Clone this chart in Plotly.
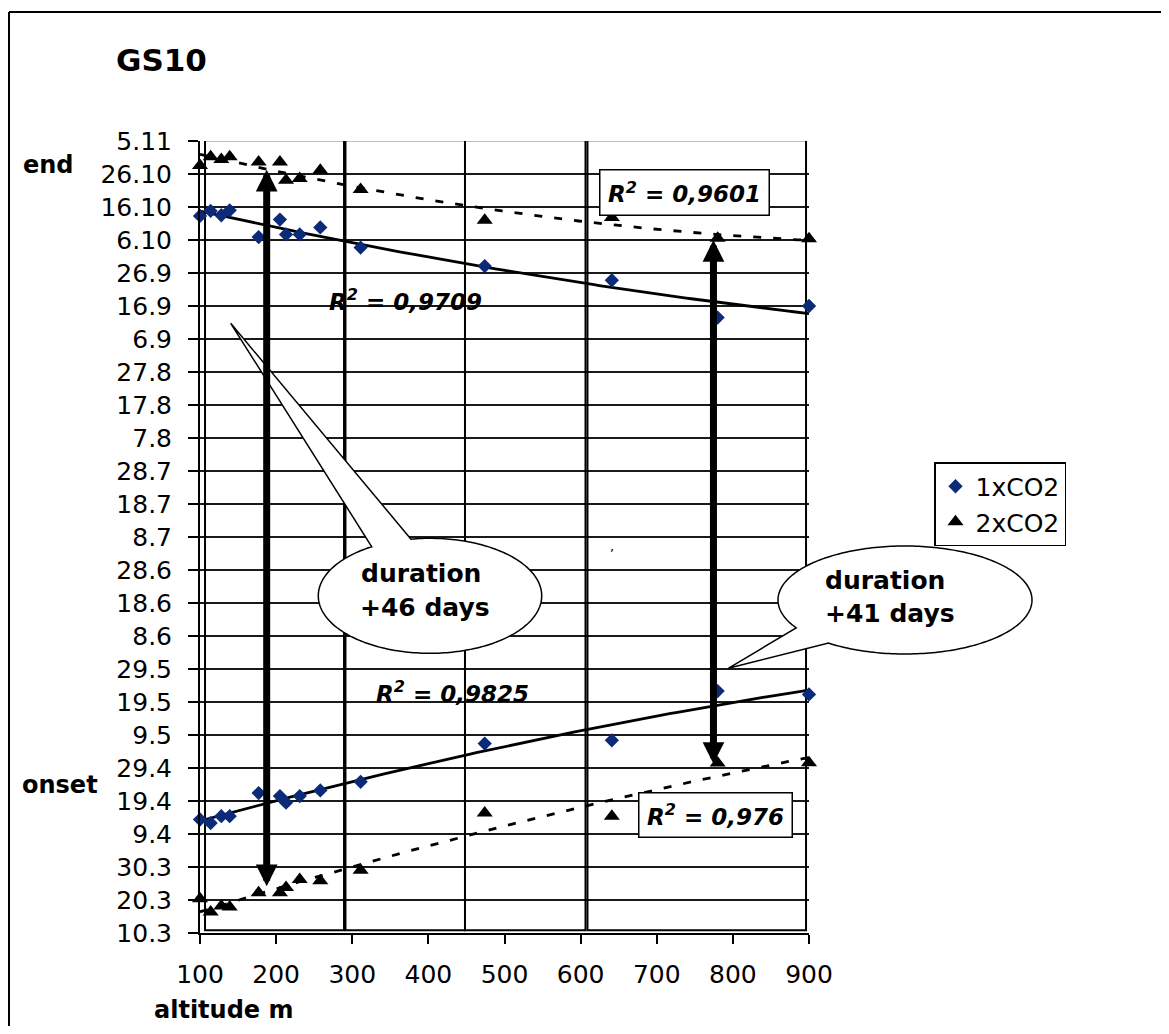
import numpy as np
import plotly.graph_objects as go

# ---------------- data (day of year) ----------------
altitude = [100, 114, 128, 139, 177, 205, 213, 231, 258, 311, 474, 641, 780, 900]
end_1x   = [286.3, 287.8, 286.5, 288.0, 279.9, 285.2, 280.7, 280.7, 282.8, 276.7, 271.1, 266.8, 255.5, 259.0]
end_2x   = [301.6, 304.2, 303.4, 304.2, 302.6, 302.6, 297.1, 297.6, 300.1, 294.3, 285.0, 285.8, 279.5, 279.4]
onset_1x = [103.4, 102.3, 104.4, 104.4, 111.4, 110.5, 108.5, 110.5, 112.2, 114.8, 126.4, 127.4, 142.3, 141.3]
onset_2x = [79.4, 75.4, 77.2, 76.9, 81.2, 81.2, 82.8, 85.2, 84.8, 88.0, 105.4, 104.4, 120.5, 120.6]

y_tick_days = list(range(69, 310, 10))
y_tick_labels = ["10.3", "20.3", "30.3", "9.4", "19.4", "29.4", "9.5", "19.5", "29.5",
                 "8.6", "18.6", "28.6", "8.7", "18.7", "28.7", "7.8", "17.8", "27.8",
                 "6.9", "16.9", "26.9", "6.10", "16.10", "26.10", "5.11"]
x_ticks = [100, 200, 300, 400, 500, 600, 700, 800, 900]

r2_end_2x, r2_end_1x, r2_onset_1x, r2_onset_2x = "0,9601", "0,9709", "0,9825", "0,976"
duration_left, duration_right = "+46 days", "+41 days"
# double-headed arrows: altitude, upper day, lower day
arrows = [(187.6, 300.3, 82.7), (774.5, 279.0, 119.8)]
# altitude zones (boxes)
zones = [(106.6, 289.2), (291.1, 448.1), (448.1, 606.4), (609.0, 896.1)]

# ---------------- layout geometry ----------------
OFF = 8                      # page body margin of the html page
W, H = 1169 - 2 * OFF, 1034 - 2 * OFF
L, T = 200 - OFF, 141 - OFF  # plot area: x 200..809, y 141..933 in page pixels
PW, PH = 609, 792
R, B = W - L - PW, H - T - PH
FONT = "DejaVu Sans"


def pp(X, Y):
    """page pixel -> paper coordinates"""
    return (X - OFF - L) / PW, (T + PH - (Y - OFF)) / PH


def callout_path(cx, cy, rx, ry, p1, p2, tip):
    t1 = np.arctan2((p1[1] - cy) / ry, (p1[0] - cx) / rx)
    t2 = np.arctan2((p2[1] - cy) / ry, (p2[0] - cx) / rx)
    d = (t2 - t1) % (2 * np.pi)
    if d < np.pi:
        ts = np.linspace(t2, t2 + 2 * np.pi - d, 240)
    else:
        ts = np.linspace(t1, t1 + d, 240)
    pts = [pp(*tip)] + [pp(cx + rx * np.cos(t), cy + ry * np.sin(t)) for t in ts]
    return "M " + " L ".join(f"{x:.5f},{y:.5f}" for x, y in pts) + " Z"


fig = go.Figure()

# trend lines (quadratic fits of the data)
xs = np.linspace(min(altitude), max(altitude), 120)
for ys, dash in [(end_1x, "solid"), (onset_1x, "solid"), (end_2x, "8px,12px"), (onset_2x, "8px,12px")]:
    c = np.polyfit(altitude, ys, 2)
    fig.add_trace(go.Scatter(x=xs, y=np.polyval(c, xs), mode="lines", showlegend=False,
                             hoverinfo="skip", line=dict(color="black", width=2.8, dash=dash),
                             cliponaxis=False))

blue = "#0B2A78"
fig.add_trace(go.Scatter(x=altitude, y=onset_1x, mode="markers", name="1xCO2", legendgroup="1x",
                         marker=dict(symbol="diamond", size=11, color=blue), cliponaxis=False))
fig.add_trace(go.Scatter(x=altitude, y=end_1x, mode="markers", name="1xCO2", legendgroup="1x",
                         showlegend=False,
                         marker=dict(symbol="diamond", size=11, color=blue), cliponaxis=False))
fig.add_trace(go.Scatter(x=altitude, y=onset_2x, mode="markers", name="2xCO2", legendgroup="2x",
                         marker=dict(symbol="triangle-up", size=14, color="black"), cliponaxis=False))
fig.add_trace(go.Scatter(x=altitude, y=end_2x, mode="markers", name="2xCO2", legendgroup="2x",
                         showlegend=False,
                         marker=dict(symbol="triangle-up", size=14, color="black"), cliponaxis=False))

shapes = []
# altitude zone boxes
for x0, x1 in zones:
    shapes.append(dict(type="rect", xref="x", yref="y", x0=x0, x1=x1, y0=69.8, y1=309.2,
                       line=dict(color="black", width=2), layer="between"))
# outer frame (left and top)
fx0, fy0 = pp(9, 12)
shapes.append(dict(type="line", xref="paper", yref="paper", x0=fx0, y0=fy0,
                   x1=fx0, y1=pp(9, 1034)[1], line=dict(color="black", width=2)))
shapes.append(dict(type="line", xref="paper", yref="paper", x0=fx0, y0=fy0,
                   x1=pp(1169, 12)[0], y1=fy0, line=dict(color="black", width=2)))
# callout bubbles
shapes.append(dict(type="path", xref="paper", yref="paper",
                   path=callout_path(430, 595.8, 111.7, 57.5, (371.7, 546.7), (410.7, 538.3), (230.7, 323.3)),
                   fillcolor="white", line=dict(color="black", width=1.5), layer="above"))
shapes.append(dict(type="path", xref="paper", yref="paper",
                   path=callout_path(905, 600, 127, 54, (796.7, 627.7), (828.3, 643.3), (728.3, 668.3)),
                   fillcolor="white", line=dict(color="black", width=1.5), layer="above"))

ann = []
for a, top, bot in arrows:
    ann.append(dict(x=a, y=top, ax=a, ay=bot, xref="x", yref="y", axref="x", ayref="y",
                    text="", showarrow=True, arrowhead=2, startarrowhead=2, arrowside="end+start",
                    arrowwidth=7, arrowsize=0.62, startarrowsize=0.62, arrowcolor="black",
                    standoff=0, startstandoff=0))


def txt(X, Y, s, size, bold=True, italic=False, **kw):
    if italic:
        s = f"<i>{s}</i>"
    if bold:
        s = f"<b>{s}</b>"
    x, y = pp(X, Y)
    d = dict(x=x, y=y, xref="paper", yref="paper", text=s, showarrow=False,
             font=dict(family=FONT, size=size, color="black"), xanchor="center", yanchor="middle")
    d.update(kw)
    ann.append(d)


txt(161, 60, "GS10", 31)
txt(48, 165, "end", 24)
txt(60, 785, "onset", 24)
txt(224, 1010, "altitude m", 24)
txt(421, 573, "duration", 25)
txt(425, 607, duration_left, 25)
txt(885, 580, "duration", 25)
txt(890, 613, duration_right, 25)
txt(405, 300, f"R<sup>2</sup> = {r2_end_1x}", 23, italic=True)
txt(452, 692, f"R<sup>2</sup> = {r2_onset_1x}", 23, italic=True)
txt(684, 192, f"R<sup>2</sup> = {r2_end_2x}", 23, italic=True,
    bgcolor="white", bordercolor="black", borderwidth=1.5, width=166, height=42)
txt(715, 815, f"R<sup>2</sup> = {r2_onset_2x}", 23, italic=True,
    bgcolor="white", bordercolor="black", borderwidth=1.5, width=150, height=41)
txt(612, 546, ",", 13, bold=False)

fig.update_layout(
    width=W, height=H, margin=dict(l=L, r=R, t=T, b=B, pad=0),
    paper_bgcolor="white", plot_bgcolor="white",
    font=dict(family=FONT, size=24, color="black"),
    shapes=shapes, annotations=ann, showlegend=True,
    legend=dict(x=pp(934, 462)[0], y=pp(934, 462)[1], xanchor="left", yanchor="top",
                bordercolor="black", borderwidth=1.5, bgcolor="white",
                font=dict(family=FONT, size=25, color="black"), itemwidth=30,
                tracegroupgap=0),
    xaxis=dict(range=[100, 900], tickvals=x_ticks, ticktext=[str(v) for v in x_ticks],
               showgrid=False, zeroline=False, showline=True, linecolor="black", linewidth=2,
               ticks="outside", ticklen=9, tickwidth=2, tickcolor="black",
               tickfont=dict(family=FONT, size=25), ticklabelstandoff=9),
    yaxis=dict(range=[69, 309], tickvals=y_tick_days, ticktext=y_tick_labels,
               showgrid=True, gridcolor="#1a1a1a", gridwidth=1.5, zeroline=False,
               showline=True, linecolor="black", linewidth=2,
               ticks="outside", ticklen=10, tickwidth=2, tickcolor="black",
               tickfont=dict(family=FONT, size=25), ticklabelstandoff=11),
)

fig.write_html("out.html")
